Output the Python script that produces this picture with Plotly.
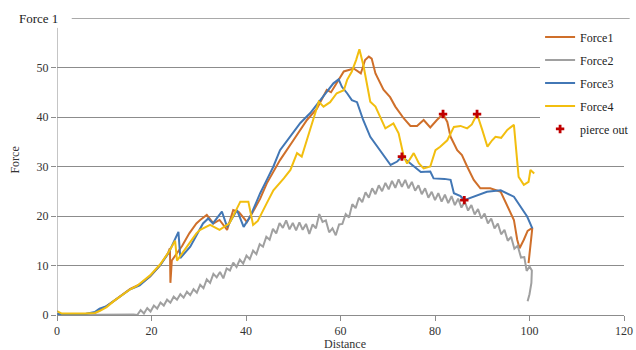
import plotly.graph_objects as go

# ---------------- data ----------------
f1_x = [0, 3, 6, 8, 9, 10.5, 12, 13.5, 15.5, 17.5, 19.7, 21.8, 23.5, 23.9, 24.0, 24.3, 25, 26.5, 28,
        29.5, 30.3, 31.7, 33.1, 34.4, 36, 37.3, 38.5, 40.2, 41.5, 43, 44.4, 47.2, 50.1, 52.9, 55, 57.1,
        58, 59.2, 60.7, 62.8, 64.3, 65.2, 66, 66.6, 67.4, 69.1, 70.5, 71.6, 73.4, 74.8, 76.2, 77.6, 79,
        80.4, 81.7, 82.6, 83.3, 84.7, 85.7, 86.8, 88.2, 89.6, 91.7, 93.9, 95.3, 96.7, 97.4, 97.9, 98.8,
        99.6, 100.6, 99.8]
f1_y = [0.2, 0.2, 0.2, 0.4, 0.9, 1.8, 2.8, 3.8, 5.3, 6.2, 7.8, 10, 12.5, 13.5, 6.5, 11, 12, 14, 16.5,
        18.5, 19.2, 20.2, 18.5, 19.2, 17.2, 21.2, 20.8, 18.8, 20.9, 23.5, 26.6, 31.3, 35.4, 39.4, 41.7, 45.5,
        45, 46.8, 49.2, 49.8, 48.8, 51.5, 52.2, 51.8, 48.8, 45.5, 44, 42.1, 39.7, 38.2, 38.2, 39.4, 37.9,
        39.4, 40.6, 39, 36, 33.3, 32.3, 30, 27.3, 25.6, 25.6, 24.9, 21.9, 19.2, 15.2, 13.5, 15.2,
        17, 17.6, 10.5]

f2_x = [0, 10, 16.2,
        17.0, 17.7, 18.4, 19.1, 19.8, 20.5, 21.2, 21.9, 22.6, 23.3, 24.0, 24.7, 25.4, 26.1, 26.8, 27.5,
        28.2, 28.9, 29.6, 30.3, 31.0, 31.7, 32.4, 33.1, 33.8, 34.5, 35.2, 35.9, 36.6, 37.3, 38.0, 38.7,
        39.4, 40.1, 40.8, 41.5, 42.2, 42.9, 43.6, 44.3, 45.0, 45.7, 46.4, 47.1, 47.8, 48.5, 49.2, 49.9,
        50.6, 51.3, 52.0, 52.7, 53.4, 54.1, 54.8, 55.5, 56.2, 56.9, 57.6, 58.3, 59.0, 59.7, 60.4, 61.1,
        61.8, 62.5, 63.2, 63.9, 64.6, 65.3, 66.0, 66.7, 67.4, 68.1, 68.8, 69.5, 70.2, 70.9, 71.6, 72.3,
        73.0, 73.7, 74.4, 75.1, 75.8, 76.5, 77.2, 77.9, 78.6, 79.3, 80.0, 80.7, 81.4, 82.1, 82.8, 83.5,
        84.2, 84.9, 85.6, 86.3, 87.0, 87.7, 88.4, 89.1, 89.8, 90.5, 91.2, 91.9, 92.6, 93.3, 94.0, 94.7,
        95.4, 96.1, 96.8, 97.5, 98.2, 98.9,
        99.4, 100.0, 100.5, 100.4, 100.0, 99.6]
f2_y = [0, 0.1, 0.1,
        0.0, 1.0, 0.3, 1.4, 0.7, 1.9, 1.3, 2.5, 1.9, 3.1, 2.5, 3.7, 3.1, 4.2, 3.5, 4.7,
        4.0, 5.2, 4.5, 6.1, 5.4, 7.2, 6.5, 8.3, 7.6, 8.7, 7.4, 9.4, 9.0, 10.6, 9.7, 11.2,
        10.4, 12.0, 11.3, 13.0, 12.3, 14.3, 13.8, 15.8, 15.2, 17.4, 16.5, 18.6, 17.6, 19.1, 17.3, 18.6,
        17.1, 18.7, 17.2, 18.4, 16.4, 18.3, 17.5, 20.4, 18.8, 19.1, 16.7, 17.5, 16.1, 18.3, 18.4, 20.4,
        19.7, 22.4, 21.6, 23.7, 22.8, 24.8, 23.7, 25.6, 24.4, 26.2, 25.0, 26.7, 25.4, 27.1, 25.7, 27.4,
        25.9, 27.3, 25.6, 26.9, 25.1, 26.2, 24.4, 25.6, 23.7, 24.9, 23.2, 24.6, 22.9, 24.3, 22.6, 24.0,
        22.2, 23.5, 21.7, 22.9, 21.1, 22.2, 20.3, 21.4, 19.5, 20.5, 18.5, 19.5, 17.5, 18.5, 16.3, 17.2,
        15.0, 15.8, 13.4, 14.0, 11.6, 11.7,
        8.9, 9.8, 9.0, 6.5, 4.2, 2.8]

f3_x = [0, 6, 8, 9, 10.5, 12, 13.5, 15.5, 17.5, 19.7, 21.8, 23.6, 25.7, 26.1, 28.2, 30.9, 32, 33,
        34.9, 36, 38.1, 39.5, 40.9, 43, 44.4, 45.8, 47.2, 49.4, 51.5, 53.6, 55.7, 57.2, 58.5, 59.6,
        60.3, 61.4, 62.4, 63.5, 64.8, 66.3, 68.4, 70.6, 72, 73, 74.8, 77, 79, 79.7, 82, 83.3, 84,
        85.4, 86.2, 88.2, 91, 93.9, 96.7, 99.5, 100.6]
f3_y = [0.2, 0.2, 0.6, 1.3, 1.8, 2.8, 3.8, 5.2, 6.0, 7.8, 10, 12.5, 16.8, 11.5, 13.8, 18.5, 19.5, 18.5,
        20.9, 17.8, 21.2, 17.8, 19.9, 24.6, 27.3, 30, 33.3, 36, 38.8, 40.8, 43.4, 45.4, 46.8, 47.6,
        46.1, 44.8, 43.4, 43, 39.4, 36, 33.3, 30.3, 31, 32, 30.6, 28.9, 29, 27.6, 27.5, 27.3, 24.6,
        24, 23.2, 23.9, 24.9, 25.2, 23.9, 19.9, 17.5]

f4_x = [0, 1, 6, 8, 9, 10.5, 12, 13.5, 15.5, 16.9, 17.5, 19.7, 21.8, 23.5, 25, 25.4, 26.5, 28, 29.5,
        30.3, 32.4, 34.4, 36.5, 38.8, 40.5, 41.5, 42.5, 44.4, 45.8, 48, 49.4, 50.8, 51.8, 52.9, 54.3,
        55.4, 56.4, 57.8, 59.2, 60.7, 61.4, 62.4, 63.3, 64, 64.9, 65.6, 66.3, 67.4, 68.4, 69.5, 71.2,
        72.3, 73.4, 74.1, 75.5, 76.6, 77.6, 79, 80.1, 81.1, 82.6, 84, 85.4, 86.8, 87.8, 88.9, 90, 91.1,
        92.1, 92.8, 94, 95.3, 96.7, 97.2, 97.7, 98.8, 99.8, 100.2, 101]
f4_y = [0.8, 0.3, 0.3, 0.4, 0.8, 1.6, 2.8, 3.8, 5.2, 5.9, 6.3, 8, 10.2, 12.5, 15, 11, 12.5, 14.5, 16.5,
        17.2, 18.2, 17.2, 18.5, 22.9, 22.9, 18.2, 19, 22.6, 25.2, 27.6, 29.3, 32.7, 32, 35.4, 40,
        43.1, 42.1, 43, 44.8, 45.4, 47.5, 49.2, 51.5, 53.7, 50.2, 46.8, 43.1, 42.1, 40, 37.7, 38.7,
        36.7, 32, 30.6, 32.7, 30.6, 29.6, 30, 33.3, 34, 35.3, 38, 38.2, 37.7, 38.5, 40.6, 37.4, 34,
        35.3, 36, 35.8, 37.4, 38.4, 33.3, 27.9, 26.3, 26.9, 29.3, 28.6]

pierce_x = [73.0, 81.7, 86.2, 88.9]
pierce_y = [32.0, 40.6, 23.2, 40.6]

x_ticks = [0, 20, 40, 60, 80, 100, 120]
y_ticks = [0, 10, 20, 30, 40, 50]

# ---------------- figure ----------------
FONT = "Liberation Serif, Times New Roman, serif"
fig = go.Figure()
series = [("Force1", f1_x, f1_y, "#CF6F2A"),
          ("Force2", f2_x, f2_y, "#A0A0A0"),
          ("Force3", f3_x, f3_y, "#4277B5"),
          ("Force4", f4_x, f4_y, "#F2BE0F")]
for name, xs, ys, col in series:
    fig.add_trace(go.Scatter(x=xs, y=ys, mode="lines", name=name, legendgroup=name,
                             line=dict(color=col, width=2)))
fig.add_trace(go.Scatter(x=pierce_x, y=pierce_y, mode="markers", name="pierce out",
                         legendgroup="pierce",
                         marker=dict(symbol="cross", size=7, color="#C00000")))

fig.update_layout(
    width=636, height=350,
    margin=dict(l=57, r=12, t=18, b=35, autoexpand=False),
    paper_bgcolor="white", plot_bgcolor="white",
    font=dict(family=FONT, size=12, color="#333333"),
    showlegend=True,
    legend=dict(x=0.852, y=0.985, xanchor="left", yanchor="top",
                bgcolor="white", font=dict(family=FONT, size=12, color="#222222"),
                tracegroupgap=4, itemwidth=30),
    xaxis=dict(range=[0, 120], tickvals=x_ticks, showgrid=False, zeroline=False,
               showline=True, linecolor="#8C8C8C", linewidth=1, automargin=False,
               ticks="outside", ticklen=5, tickcolor="#8C8C8C",
               tickfont=dict(family=FONT, size=12, color="#333333")),
    yaxis=dict(range=[0, 60], tickvals=y_ticks, showgrid=True, gridcolor="#8C8C8C", gridwidth=1,
               zeroline=False, showline=False, automargin=False,
               ticks="outside", ticklen=5, tickcolor="#8C8C8C",
               tickfont=dict(family=FONT, size=12, color="#333333")),
)

# y axis line (stops a little below the top line) and the top line at 60
fig.add_shape(type="line", xref="x", yref="y", x0=0, x1=0, y0=0, y1=58,
              line=dict(color="#8C8C8C", width=1))
fig.add_shape(type="line", xref="paper", yref="y", x0=0.026, x1=1.01, y0=60, y1=60,
              line=dict(color="#555555", width=1))

fig.add_annotation(text="Force 1", xref="paper", yref="paper", x=0.005, y=1.0,
                   xanchor="right", yanchor="middle", showarrow=False,
                   font=dict(family=FONT, size=13, color="#222222"))
fig.add_annotation(text="Force", xref="paper", yref="paper", x=-0.074, y=0.52,
                   textangle=-90, xanchor="center", yanchor="middle", showarrow=False,
                   font=dict(family=FONT, size=12, color="#333333"))
fig.add_annotation(text="Distance", xref="paper", yref="paper", x=0.508, y=-0.098,
                   xanchor="center", yanchor="middle", showarrow=False,
                   font=dict(family=FONT, size=12, color="#333333"))

fig.write_html("out.html", config={"displayModeBar": False},
               post_script="document.body.style.margin='0px';")
